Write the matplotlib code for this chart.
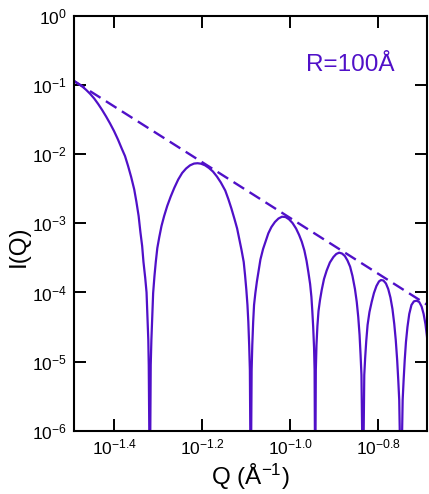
import numpy as np
import matplotlib
matplotlib.use('Agg')
import matplotlib.pyplot as plt
from matplotlib.ticker import NullLocator

# Helvetica-like text, mathtext in the same face for the 10^x labels
plt.rcParams['font.family'] = ['Liberation Sans', 'DejaVu Sans']
plt.rcParams['mathtext.fontset'] = 'custom'
plt.rcParams['mathtext.rm'] = 'Liberation Sans'
plt.rcParams['mathtext.it'] = 'Liberation Sans:italic'
plt.rcParams['mathtext.bf'] = 'Liberation Sans:bold'

LINE_COLOR = '#5010c8'

# sphere form factor, R = 100 A: log10(Q) and log10(I) along the curve,
# one block per lobe; the zeros drop far below the 1e-6 floor (-7)
log_q = [
    -1.492, -1.483, -1.473, -1.464, -1.455, -1.446, -1.437, -1.428, -1.419,
    -1.410, -1.401, -1.392, -1.383, -1.376, -1.369, -1.362, -1.355, -1.350,
    -1.345, -1.341, -1.337, -1.334, -1.330, -1.327, -1.325, -1.323, -1.322,
    -1.3195,
    -1.3175, -1.316, -1.314, -1.312, -1.309, -1.306, -1.3025, -1.298, -1.293,
    -1.287, -1.280, -1.272, -1.264, -1.255, -1.246, -1.237, -1.228, -1.219,
    -1.211, -1.203, -1.194, -1.185, -1.176, -1.167, -1.158, -1.148, -1.141,
    -1.134, -1.127, -1.121, -1.116, -1.111, -1.106, -1.103, -1.100, -1.0975,
    -1.0955, -1.0936, -1.092, -1.090,
    -1.088, -1.0865, -1.0845, -1.0825, -1.0795, -1.076, -1.072, -1.068, -1.062,
    -1.056, -1.050, -1.043, -1.035, -1.027, -1.019, -1.011, -1.003, -0.995,
    -0.987, -0.980, -0.974, -0.968, -0.963, -0.959, -0.955, -0.952, -0.950,
    -0.948, -0.946, -0.9448, -0.9434,
    -0.942, -0.9405, -0.9384, -0.9359, -0.9325, -0.9286, -0.9234, -0.9173,
    -0.910, -0.902, -0.8955, -0.889, -0.8825, -0.876, -0.870, -0.864, -0.8586,
    -0.853, -0.8489, -0.8455, -0.8425, -0.8402, -0.8382, -0.8348,
    -0.8318, -0.8298, -0.8273, -0.8243, -0.820, -0.815, -0.8098, -0.8041,
    -0.7984, -0.7939, -0.7882, -0.7825, -0.7773, -0.7723, -0.7677, -0.7636,
    -0.7602, -0.757, -0.7545, -0.7523, -0.7484,
    -0.7445, -0.7423, -0.7398, -0.737, -0.7336, -0.7295, -0.7245, -0.7189,
    -0.7127, -0.7068, -0.7014, -0.6968, -0.6927, -0.6893, -0.6859,
]
log_i = [
    -0.940, -0.977, -1.020, -1.071, -1.128, -1.194, -1.273, -1.360, -1.454,
    -1.555, -1.664, -1.787, -1.924, -2.026, -2.170, -2.329, -2.510, -2.691,
    -2.894, -3.125, -3.328, -3.559, -3.791, -4.000, -4.326, -4.688, -5.049,
    -7.0,
    -5.049, -4.688, -4.326, -4.008, -3.762, -3.559, -3.357, -3.197, -3.038,
    -2.894, -2.749, -2.611, -2.488, -2.366, -2.271, -2.206, -2.160, -2.135,
    -2.130, -2.137, -2.160, -2.199, -2.250, -2.322, -2.409, -2.525, -2.648,
    -2.785, -2.937, -3.074, -3.226, -3.385, -3.559, -3.747, -3.964, -4.181,
    -4.427, -4.760, -5.122, -7.0,
    -5.122, -4.760, -4.427, -4.181, -4.008, -3.841, -3.682, -3.523, -3.371,
    -3.255, -3.144, -3.053, -2.980, -2.930, -2.904, -2.908, -2.941, -2.995,
    -3.074, -3.168, -3.265, -3.393, -3.545, -3.704, -3.877, -4.066, -4.268,
    -4.500, -4.803, -5.122, -7.0,
    -5.122, -4.760, -4.485, -4.268, -4.109, -3.964, -3.805, -3.682,
    -3.566, -3.487, -3.443, -3.424, -3.436, -3.472, -3.537, -3.627, -3.762,
    -3.950, -4.138, -4.355, -4.615, -4.905, -5.194, -7.0,
    -5.194, -4.948, -4.702, -4.471, -4.283, -4.138, -4.008, -3.906,
    -3.841, -3.820, -3.827, -3.870, -3.950, -4.073, -4.239, -4.456,
    -4.688, -4.977, -5.266, -5.556, -7.0,
    -5.556, -5.266, -4.977, -4.717, -4.500, -4.311, -4.181, -4.128,
    -4.119, -4.138, -4.203, -4.311, -4.456, -4.630, -4.861,
]

# Porod asymptote (Q^-4), end points
asym_log_q = [-1.492, -0.688]
asym_log_i = [-0.940, -4.181]

x_tick_exp = ['-1.4', '-1.2', '-1.0', '-0.8']
y_tick_exp = ['0', '-1', '-2', '-3', '-4', '-5', '-6']

fig = plt.figure(figsize=(4.29, 4.94), dpi=100)
ax = fig.add_axes([0.1725, 0.1281, 0.8240, 0.8395])

ax.plot(10 ** np.array(log_q), 10 ** np.array(log_i), color=LINE_COLOR, lw=1.6)
ax.plot(10 ** np.array(asym_log_q), 10 ** np.array(asym_log_i),
        color=LINE_COLOR, lw=1.7, dashes=(5.3, 2.7))

ax.set_xscale('log')
ax.set_yscale('log')
ax.set_xlim(10 ** -1.492, 10 ** -0.688)
ax.set_ylim(1e-6, 1)

ax.set_xticks([10 ** float(e) for e in x_tick_exp])
ax.set_xticklabels([r'$\mathregular{10^{%s}}$' % e for e in x_tick_exp])
ax.set_yticks([10 ** float(e) for e in y_tick_exp])
ax.set_yticklabels([r'$\mathregular{10^{%s}}$' % e for e in y_tick_exp])
ax.xaxis.set_minor_locator(NullLocator())
ax.yaxis.set_minor_locator(NullLocator())

ax.tick_params(which='major', direction='in', length=8.3, width=1.4,
               top=True, right=True, labelsize=12.5, pad=5)
for sp in ax.spines.values():
    sp.set_linewidth(1.5)

ax.set_xlabel('Q (Å$^{-1}$)', fontsize=17.5)
ax.set_ylabel('I(Q)', fontsize=17.5)
ax.xaxis.set_label_coords(0.5, -0.075)
ax.yaxis.set_label_coords(-0.125, 0.445)

ax.text(0.781, 0.867, 'R=100Å', transform=ax.transAxes, ha='center',
        va='baseline', fontsize=17.5, color=LINE_COLOR)

fig.savefig('out.png', dpi=100, facecolor='white')
